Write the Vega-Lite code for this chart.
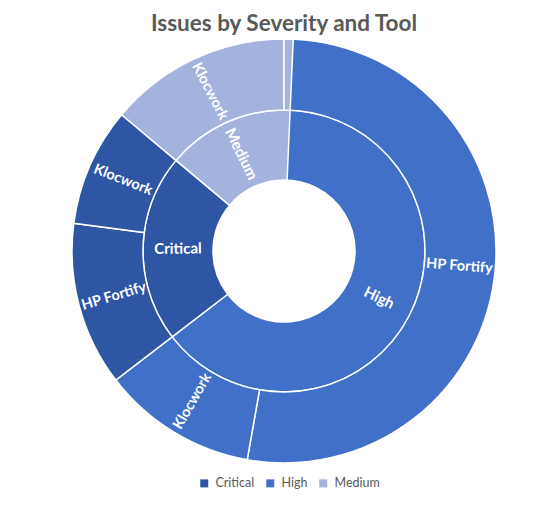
{
  "$schema": "https://vega.github.io/schema/vega-lite/v6.json",
  "width": 550,
  "height": 422,
  "padding": {"left": 9, "top": 40, "right": 0, "bottom": 43},
  "autosize": {"type": "none"},
  "background": "white",
  "title": {
    "text": "Issues by Severity and Tool",
    "font": "Lato",
    "fontSize": 22.5,
    "fontWeight": "bold",
    "color": "#595959",
    "anchor": "middle",
    "offset": 1
  },
  "config": {
    "view": {"stroke": null},
    "legend": {
      "direction": "horizontal",
      "title": null,
      "symbolType": "square",
      "symbolSize": 64,
      "symbolStrokeWidth": 0,
      "labelFont": "Lato",
      "labelFontSize": 12.5,
      "labelColor": "#595959",
      "columnPadding": 9,
      "labelOffset": 5
    }
  },
  "data": {
    "values": [
      {"severity": "High", "tool": "HP Fortify", "count": 76, "sevOrder": 1, "toolOrder": 1},
      {"severity": "High", "tool": "Klocwork", "count": 17, "sevOrder": 1, "toolOrder": 2},
      {"severity": "Critical", "tool": "HP Fortify", "count": 18, "sevOrder": 2, "toolOrder": 1},
      {"severity": "Critical", "tool": "Klocwork", "count": 13, "sevOrder": 2, "toolOrder": 2},
      {"severity": "Medium", "tool": "Klocwork", "count": 20, "sevOrder": 3, "toolOrder": 1},
      {"severity": "Medium", "tool": "HP Fortify", "count": 1, "sevOrder": 3, "toolOrder": 2}
    ]
  },
  "layer": [
    {
      "transform": [
        {"aggregate": [{"op": "sum", "field": "count", "as": "count"}], "groupby": ["severity", "sevOrder"]},
        {"stack": "count", "groupby": [], "sort": [{"field": "sevOrder"}], "as": ["v0", "v1"]}
      ],
      "mark": {"type": "arc", "radius": 141, "radius2": 71, "stroke": "white", "strokeWidth": 1.5},
      "encoding": {
        "theta": {"field": "v0", "type": "quantitative", "scale": {"zero": true, "nice": false}},
        "theta2": {"field": "v1"},
        "color": {
          "field": "severity",
          "type": "nominal",
          "scale": {"domain": ["Critical", "High", "Medium"], "range": ["#2F55A5", "#4170C8", "#A4B3DD"]},
          "legend": {"orient": "none", "legendX": 189, "legendY": 437}
        }
      }
    },
    {
      "transform": [
        {"stack": "count", "groupby": [], "sort": [{"field": "sevOrder"}, {"field": "toolOrder"}], "as": ["v0", "v1"]}
      ],
      "mark": {"type": "arc", "radius": 212, "radius2": 141, "stroke": "white", "strokeWidth": 1.5},
      "encoding": {
        "theta": {"field": "v0", "type": "quantitative"},
        "theta2": {"field": "v1"},
        "color": {"field": "severity", "type": "nominal"}
      }
    },
    {
      "transform": [
        {"aggregate": [{"op": "sum", "field": "count", "as": "count"}], "groupby": ["severity", "sevOrder"]},
        {"stack": "count", "groupby": [], "sort": [{"field": "sevOrder"}], "as": ["v0", "v1"]},
        {"joinaggregate": [{"op": "sum", "field": "count", "as": "total"}]},
        {"calculate": "(datum.v0 + datum.v1) / 2", "as": "mid"},
        {"calculate": "360 * datum.mid / datum.total", "as": "deg"},
        {"calculate": "datum.deg < 180 ? datum.deg - 90 : datum.deg - 270", "as": "rot"}
      ],
      "mark": {"type": "text", "radius": 106, "font": "Lato", "fontSize": 15, "fontWeight": "bold", "color": "white", "align": "center", "baseline": "middle"},
      "encoding": {
        "theta": {"field": "mid", "type": "quantitative"},
        "angle": {"field": "rot", "type": "quantitative", "scale": null},
        "text": {"field": "severity"}
      }
    },
    {
      "transform": [
        {"stack": "count", "groupby": [], "sort": [{"field": "sevOrder"}, {"field": "toolOrder"}], "as": ["v0", "v1"]},
        {"joinaggregate": [{"op": "sum", "field": "count", "as": "total"}]},
        {"filter": "datum.count >= 5"},
        {"calculate": "(datum.v0 + datum.v1) / 2", "as": "mid"},
        {"calculate": "360 * datum.mid / datum.total", "as": "deg"},
        {"calculate": "datum.deg < 180 ? datum.deg - 90 : datum.deg - 270", "as": "rot"}
      ],
      "mark": {"type": "text", "radius": 176, "font": "Lato", "fontSize": 14.5, "fontWeight": "bold", "color": "white", "align": "center", "baseline": "middle"},
      "encoding": {
        "theta": {"field": "mid", "type": "quantitative"},
        "angle": {"field": "rot", "type": "quantitative", "scale": null},
        "text": {"field": "tool"}
      }
    }
  ]
}
